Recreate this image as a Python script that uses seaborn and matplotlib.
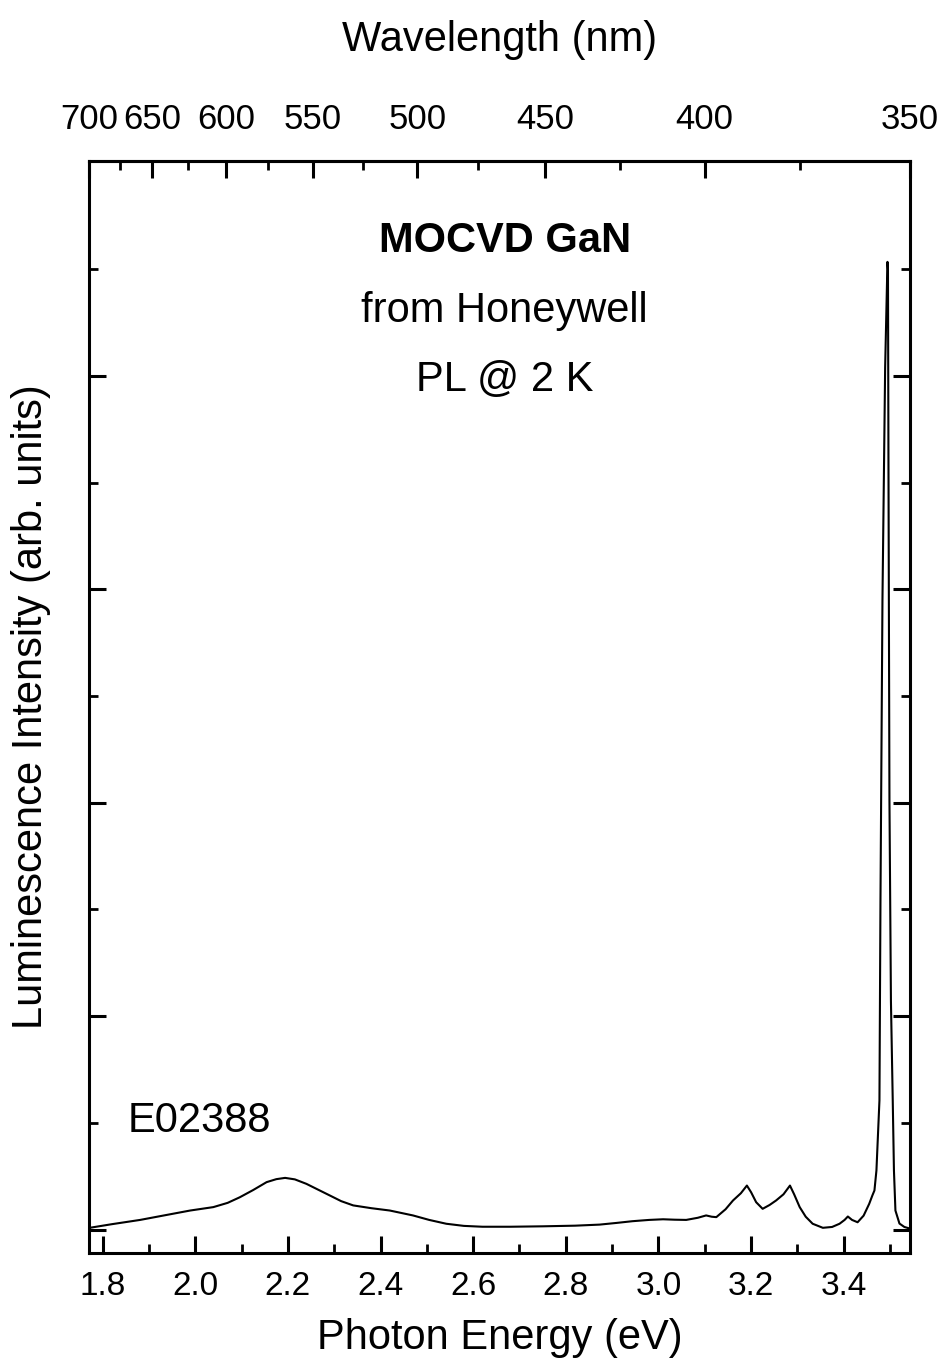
import numpy as np
import matplotlib
matplotlib.use("Agg")
import matplotlib.pyplot as plt
from matplotlib.ticker import FixedLocator, NullFormatter
import seaborn as sns

# Photoluminescence spectrum of MOCVD GaN at 2 K
energy_ev = [
    1.772, 1.820, 1.881, 1.930, 1.989, 2.039, 2.070, 2.096, 2.125, 2.154,
    2.175, 2.194, 2.215, 2.240, 2.265, 2.291, 2.315, 2.341, 2.380, 2.420,
    2.470, 2.505, 2.542, 2.580, 2.620, 2.680, 2.750, 2.820, 2.873, 2.910,
    2.944, 2.980, 3.010, 3.035, 3.060, 3.085, 3.103, 3.115, 3.125, 3.145,
    3.161, 3.178, 3.191, 3.200, 3.211, 3.225, 3.240, 3.254, 3.270, 3.284,
    3.293, 3.305, 3.318, 3.333, 3.355, 3.375, 3.391, 3.402, 3.409, 3.418,
    3.430, 3.443, 3.455, 3.462, 3.4664, 3.4707, 3.4772, 3.4794, 3.4837, 3.4895,
    3.4945, 3.4956, 3.4966, 3.4988, 3.5020, 3.5059, 3.5085, 3.5117, 3.5204, 3.5310,
    3.5419,
]
intensity = [
    0.008, 0.025, 0.045, 0.065, 0.089, 0.105, 0.125, 0.151, 0.185, 0.222,
    0.236, 0.242, 0.235, 0.214, 0.187, 0.159, 0.133, 0.113, 0.100, 0.089,
    0.066, 0.045, 0.027, 0.017, 0.013, 0.013, 0.015, 0.018, 0.023, 0.031,
    0.039, 0.045, 0.048, 0.046, 0.045, 0.055, 0.066, 0.060, 0.058, 0.095,
    0.136, 0.170, 0.206, 0.175, 0.128, 0.097, 0.115, 0.136, 0.165, 0.206,
    0.165, 0.105, 0.060, 0.027, 0.008, 0.012, 0.027, 0.045, 0.061, 0.045,
    0.034, 0.065, 0.120, 0.160, 0.183, 0.277, 0.605, 1.540, 2.950, 4.040,
    4.535, 4.500, 3.650, 2.010, 1.070, 0.605, 0.277, 0.089, 0.028, 0.012,
    0.005,
]

energy_ticks = [1.8, 2.0, 2.2, 2.4, 2.6, 2.8, 3.0, 3.2, 3.4]
energy_minor = [1.9, 2.1, 2.3, 2.5, 2.7, 2.9, 3.1, 3.3, 3.5]
energy_labels = ["1.8", "2.0", "2.2", "2.4", "2.6", "2.8", "3.0", "3.2", "3.4"]
wavelength_ticks = [350, 400, 450, 500, 550, 600, 650, 700]
wavelength_minor = [375, 425, 475, 525, 575, 625, 675]
intensity_major = [0, 1, 2, 3, 4]
intensity_minor = [0.5, 1.5, 2.5, 3.5, 4.5]

HC = 1239.84  # eV * nm


def ev_to_nm(e):
    e = np.asarray(e, dtype=float)
    with np.errstate(divide="ignore"):
        return np.where(e != 0, HC / e, np.inf)


def nm_to_ev(w):
    w = np.asarray(w, dtype=float)
    with np.errstate(divide="ignore"):
        return np.where(w != 0, HC / w, np.inf)


sns.set_theme(style="ticks")
plt.rcParams["font.family"] = ["Liberation Sans", "DejaVu Sans"]
plt.rcParams.update({
    "text.color": "black",
    "axes.labelcolor": "black",
    "xtick.color": "black",
    "ytick.color": "black",
    "axes.edgecolor": "black",
    "axes.linewidth": 2.2,
})

fig = plt.figure(figsize=(9.44, 13.64), dpi=100)
ax = fig.add_axes([0.094, 0.0817, 0.870, 0.800])

sns.lineplot(x=energy_ev, y=intensity, sort=False, estimator=None,
             color="black", linewidth=1.5, ax=ax)

ax.set_xlim(1.77, 3.5432)
ax.set_ylim(-0.108, 5.006)

for s in ax.spines.values():
    s.set_linewidth(2.2)
    s.set_color("black")

# bottom energy axis
ax.xaxis.set_major_locator(FixedLocator(energy_ticks))
ax.xaxis.set_minor_locator(FixedLocator(energy_minor))
ax.set_xticklabels(energy_labels)
ax.tick_params(axis="x", which="major", direction="in", length=12, width=2.2,
               labelsize=24, pad=13, colors="black", top=False)
ax.tick_params(axis="x", which="minor", direction="in", length=6.5, width=2.0,
               top=False)

# intensity ticks on both sides, no labels
ax.yaxis.set_major_locator(FixedLocator(intensity_major))
ax.yaxis.set_minor_locator(FixedLocator(intensity_minor))
ax.yaxis.set_major_formatter(NullFormatter())
ax.tick_params(axis="y", which="major", direction="in", length=12, width=2.2,
               left=True, right=True, labelleft=False)
ax.tick_params(axis="y", which="minor", direction="in", length=6.5, width=2.0,
               left=True, right=True)

ax.set_xlabel("Photon Energy (eV)", fontsize=30, labelpad=12)
ax.set_ylabel("Luminescence Intensity (arb. units)", fontsize=30, labelpad=24)

# top wavelength axis
top = ax.secondary_xaxis("top", functions=(ev_to_nm, nm_to_ev))
top.xaxis.set_major_locator(FixedLocator(wavelength_ticks))
top.xaxis.set_minor_locator(FixedLocator(wavelength_minor))
top.set_xticklabels([str(w) for w in wavelength_ticks])
top.tick_params(axis="x", which="major", direction="in", length=12, width=2.2,
                labelsize=25, pad=18, colors="black")
top.tick_params(axis="x", which="minor", direction="in", length=6.5, width=2.0)
top.spines["top"].set_linewidth(2.2)
top.set_xlabel("Wavelength (nm)", fontsize=30, labelpad=38)

# annotations
ax.text(2.668, 4.582, "MOCVD GaN", fontsize=30, fontweight="bold",
        ha="center", va="baseline")
ax.text(2.668, 4.253, "from Honeywell", fontsize=30, ha="center", va="baseline")
ax.text(2.668, 3.930, "PL @ 2 K", fontsize=30, ha="center", va="baseline")
ax.text(1.853, 0.455, "E02388", fontsize=30, ha="left", va="baseline")

fig.savefig("out.png", dpi=100, facecolor="white")
